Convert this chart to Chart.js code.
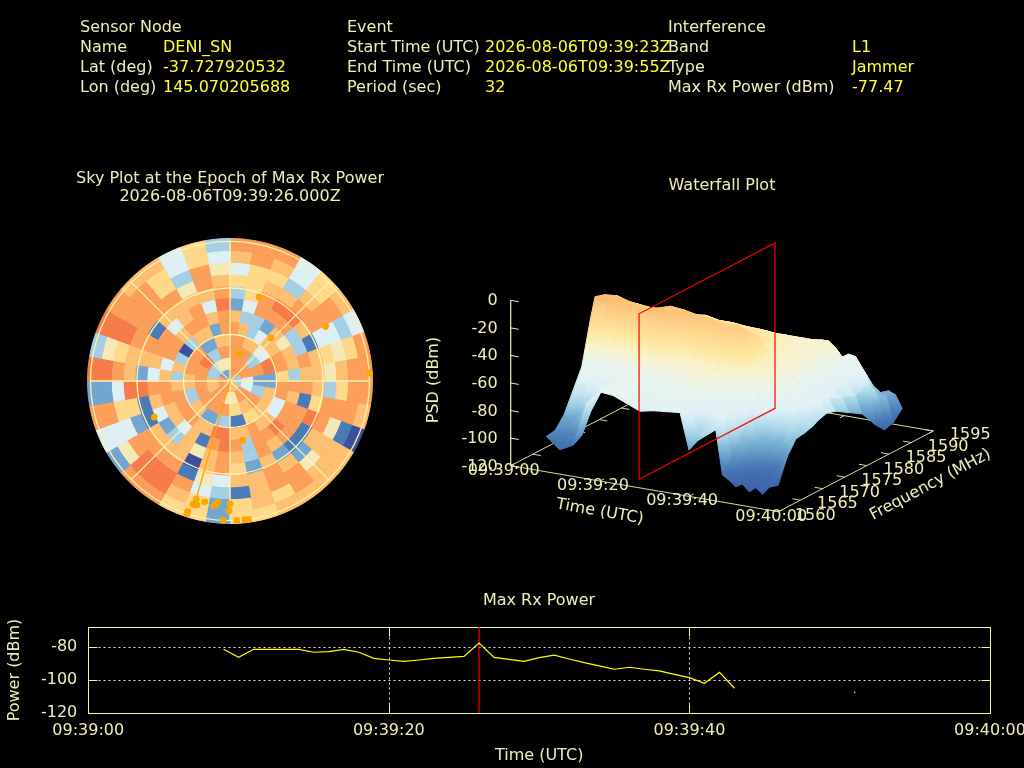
<!DOCTYPE html>
<html>
<head>
<meta charset="utf-8">
<title>Interference report</title>
<script src="https://cdn.jsdelivr.net/npm/chart.js@4/dist/chart.umd.js"></script>
<style>
  html, body { margin: 0; width: 1024px; height: 768px; background: #000; overflow: hidden; }
  canvas { position: absolute; }
  .t { position: absolute; white-space: pre; font: 16px "DejaVu Sans", sans-serif; line-height: 1; }
</style>
</head>
<body>
<canvas id="skyCells" width="286" height="286" style="left:87px;top:238px"></canvas>
<canvas id="skyMarks" width="330" height="330" style="left:65px;top:216px"></canvas>
<canvas id="waterfall" width="1024" height="768" style="left:0;top:0"></canvas>
<canvas id="power" width="1060" height="768" style="left:0;top:0"></canvas>
<script>
const CREAM = "#efeeb8";
const YELLOW = "#ffff33";

// ---- header text
const headerLabels = [
  ["Sensor Node", 80, 27.3], ["Name", 80, 47.3], ["Lat (deg)", 80, 67.3], ["Lon (deg)", 80, 87.3],
  ["Event", 347, 27.3], ["Start Time (UTC)", 347, 47.3], ["End Time (UTC)", 347, 67.3], ["Period (sec)", 347, 87.3],
  ["Interference", 668, 27.3], ["Band", 668, 47.3], ["Type", 668, 67.3], ["Max Rx Power (dBm)", 668, 87.3]
];
const headerValues = [
  ["DENI_SN", 163, 47.3], ["-37.727920532", 163, 67.3], ["145.070205688", 163, 87.3],
  ["2026-08-06T09:39:23Z", 485, 47.3], ["2026-08-06T09:39:55Z", 485, 67.3], ["32", 485, 87.3],
  ["L1", 852, 47.3], ["Jammer", 852, 67.3], ["-77.47", 852, 87.3]
];

// ---- sky plot: colour level per cell, one row per 10 deg sector from north, inner ring first
const skySectors = [
  [7,8,5,6,8,7,2,3,6,4,7,8],
  [7,8,8,8,7,3,4,6,6,6,8,8],
  [8,8,9,8,3,3,8,8,7,6,7,8],
  [8,8,8,7,4,2,8,9,7,3,4,4],
  [7,7,8,7,7,7,8,9,8,7,6,6],
  [6,8,3,4,7,5,3,7,8,8,8,7],
  [7,8,5,4,8,7,3,1,4,4,3,4],
  [6,8,8,9,8,7,8,7,6,5,6,8],
  [6,7,7,8,6,3,7,7,5,7,8,8],
  [3,3,2,2,8,8,8,7,3,6,8,8],
  [5,4,0,3,8,7,1,6,8,8,8,7],
  [7,3,3,7,4,8,8,9,8,5,1,0],
  [8,8,8,8,4,8,8,1,7,7,7,7],
  [8,9,8,7,7,9,8,1,2,5,7,7],
  [8,8,7,7,7,8,7,2,7,8,8,7],
  [7,8,7,6,8,8,8,7,8,8,6,7],
  [6,5,6,4,7,3,3,2,7,7,7,6],
  [5,5,6,1,7,8,7,6,7,1,6,6],
  [6,5,7,3,9,9,8,8,4,3,2,2],
  [8,1,8,3,9,8,7,7,5,4,6,6],
  [8,8,8,2,7,1,5,0,1,8,7,6],
  [8,8,8,2,7,7,7,7,8,9,9,8],
  [7,8,7,7,8,4,3,7,8,9,9,8],
  [8,7,8,7,8,7,2,7,8,8,5,2],
  [7,1,8,7,8,7,4,1,2,4,4,4],
  [7,1,8,3,8,8,7,1,6,6,8,8],
  [7,7,8,3,7,8,8,9,9,4,2,2],
  [8,1,8,7,3,7,4,2,7,8,9,9],
  [7,8,8,8,7,4,7,7,7,6,5,3],
  [3,1,8,8,3,8,8,8,8,9,9,9],
  [3,3,9,8,0,8,8,1,8,8,8,8],
  [3,7,9,8,3,7,4,7,8,8,8,7],
  [3,5,7,4,7,8,7,7,8,6,6,7],
  [2,5,3,2,7,8,8,7,5,3,4,4],
  [3,5,8,7,2,7,4,7,8,8,6,6],
  [8,7,8,7,8,8,9,8,7,5,4,3]
];
// how many sectors one cell spans in each ring, inner rings have wider cells
const skyRingSpan = [6, 4, 2, 2, 1, 1, 1, 1, 1, 1, 1, 1];
const skyColors = ["#3c4f9e", "#4a7ab8", "#72a6d0", "#a5cfe5", "#dff0f5", "#f5e9b8", "#fed98a", "#fdbf72", "#fb9f5b", "#f67c4b"];

const satAz = [19.2, 60.3, 43.7, 17.8, 86.8, 244.5, 168, 196, 196.7, 195, 191.8, 187.3, 186.7, 185.8, 180, 180.4, 198, 198, 182.8, 177.2, 173.9, 172.4];
const satEl = [32.7, 19, 51.7, 71.5, 0, 35.9, 50.8, 10.8, 7, 7.3, 10.3, 8.8, 9.5, 11.1, 10.7, 6.3, 1.6, 0, 0, 0, 0, 0];
const skyRingEl = [60, 30, 0];
const skySpokeAz = [0, 45, 90, 135];

// ---- waterfall: PSD (dBm) per time row and frequency column
const wfSeconds = [5, 8, 11, 14, 17, 20, 23, 26, 29, 32, 35, 37, 39, 41, 43, 44.5, 46, 47.5, 49, 50.5, 52, 53.5, 55];
const wfFreqs = [1563, 1565, 1567, 1569, 1571, 1573, 1574, 1576, 1578, 1581, 1584, 1587, 1589, 1591, 1593];
const wfPsd = [
  [-101,-100,-92,-78,-64,-32,-18,-20,-28,-40,-46,-52,-60,-75,-90],
  [-109,-103,-92,-74,-62,-30,-18,-19,-26,-38,-44,-50,-58,-72,-88],
  [-104,-100,-86,-70,-60,-30,-21,-22,-27,-36,-42,-49,-56,-70,-86],
  [-72,-70,-66,-64,-58,-32,-23,-24,-28,-35,-41,-49,-55,-68,-84],
  [-62,-62,-61,-60,-56,-33,-22,-23,-30,-36,-41,-49,-54,-66,-82],
  [-63,-60,-62,-58,-55,-30,-18,-20,-28,-35,-40,-49,-53,-65,-80],
  [-67,-64,-60,-60,-54,-34,-23,-21,-29,-36,-42,-50,-54,-65,-80],
  [-71,-68,-63,-60,-55,-36,-24,-23,-30,-37,-42,-50,-55,-66,-81],
  [-69,-66,-62,-58,-52,-35,-25,-24,-31,-38,-43,-50,-55,-67,-83],
  [-68,-64,-60,-57,-50,-33,-24,-26,-32,-38,-44,-51,-56,-68,-84],
  [-67,-65,-58,-55,-48,-32,-26,-25,-34,-40,-45,-51,-57,-70,-86],
  [-93,-85,-72,-62,-52,-38,-27,-28,-36,-42,-46,-51,-58,-70,-86],
  [-85,-78,-68,-60,-50,-36,-28,-30,-40,-45,-47,-51,-58,-71,-87],
  [-80,-76,-70,-64,-58,-50,-46,-48,-50,-50,-50,-51,-60,-72,-88],
  [-75,-72,-68,-62,-56,-50,-47,-48,-50,-50,-50,-50,-60,-74,-89],
  [-107,-98,-86,-74,-64,-55,-52,-52,-52,-52,-52,-50,-62,-75,-90],
  [-110,-104,-95,-84,-68,-58,-55,-54,-54,-54,-54,-54,-66,-80,-92],
  [-114,-108,-100,-92,-70,-60,-57,-56,-56,-56,-56,-60,-68,-82,-95],
  [-111,-112,-102,-90,-74,-64,-60,-60,-60,-62,-60,-57,-70,-85,-92],
  [-116,-110,-104,-94,-76,-68,-64,-62,-64,-66,-62,-58,-72,-86,-95],
  [-112,-114,-106,-90,-78,-72,-68,-66,-68,-72,-72,-66,-82,-90,-92],
  [-116,-110,-104,-90,-82,-76,-72,-70,-72,-76,-80,-76,-88,-92,-94],
  [-110,-112,-95,-85,-84,-82,-80,-78,-80,-86,-92,-105,-112,-110,-103]
];
const psdStops = [-120, -105, -92, -82, -72, -60, -50, -40, -28, -15, 0];
const psdColors = ["#3b56a6", "#4575b4", "#74add1", "#abd9e9", "#dff1f7", "#e8f4ee", "#f8f3cf", "#fee8a0", "#fed38a", "#fdb56a", "#f46d43"];
const wfTimeTicks = [0, 20, 40, 60];
const wfFreqTicks = [1560, 1565, 1570, 1575, 1580, 1585, 1590, 1595];
const wfPsdTicks = [0, -20, -40, -60, -80, -100, -120];
const epochSecond = 26;
const planeFreqs = [1562.8, 1593.5];

// ---- max rx power
const powerSeconds = [9,10,11,12,13,14,15,16,17,18,19,20,21,22,23,24,25,26,27,28,29,30,31,32,33,34,35,36,37,38,39,40,41,42,43];
const powerValues = [-81.2,-86.1,-81.2,-81.2,-81.2,-81.2,-83,-82.6,-81.2,-83,-86.7,-87.7,-88.5,-87.7,-86.7,-86.1,-85.5,-77.47,-86.1,-87.3,-88.5,-86.3,-84.8,-87.1,-89.3,-91.3,-93.3,-92.1,-93.3,-94.3,-96.4,-98.4,-101.8,-95.2,-104.8];
const lonePoint = [{ x: 51, y: -107.3 }];
const powerTimeTicks = [0, 20, 40, 60];
const powerTicks = [-120, -100, -80];

function clockLabel(sec) {
  const m = 39 + Math.floor(sec / 60);
  const s = sec % 60;
  return "09:" + m + ":" + String(s).padStart(2, "0");
}

function addText(str, x, y, color, anchor, rot) {
  const el = document.createElement("div");
  el.className = "t";
  el.textContent = str;
  el.style.left = x + "px";
  el.style.top = y + "px";
  el.style.color = color || CREAM;
  const tx = anchor === "l" ? "0" : anchor === "r" ? "-100%" : "-50%";
  el.style.transform = "translate(" + tx + ",-50%)" + (rot ? " rotate(" + rot + "deg)" : "");
  document.body.appendChild(el);
}

headerLabels.forEach(([s, x, y]) => addText(s, x, y, CREAM, "l"));
headerValues.forEach(([s, x, y]) => addText(s, x, y, YELLOW, "l"));
addText("Sky Plot at the Epoch of Max Rx Power", 230, 178.3);
addText("2026-08-06T09:39:26.000Z", 230, 196.3);
addText("Waterfall Plot", 722, 185.3);
addText("Max Rx Power", 539, 600.3);

Chart.defaults.animation = false;
Chart.defaults.events = [];
Chart.defaults.plugins.legend.display = false;
Chart.defaults.plugins.tooltip.enabled = false;
Chart.defaults.responsive = false;
Chart.defaults.font.family = '"DejaVu Sans", sans-serif';
Chart.defaults.font.size = 16;
Chart.defaults.color = CREAM;

// ---- sky cells, outermost ring is the first dataset
const skyDatasets = [];
for (let ring = skyRingSpan.length - 1; ring >= 0; ring--) {
  const span = skyRingSpan[ring];
  const spans = [];
  const colors = [];
  for (let s = 0; s < skySectors.length; s += span) {
    spans.push(span);
    colors.push(skyColors[skySectors[s + Math.floor(span / 2)][ring]]);
  }
  skyDatasets.push({ data: spans, backgroundColor: colors, borderColor: colors, borderWidth: 1 });
}
new Chart(document.getElementById("skyCells"), {
  type: "doughnut",
  data: { labels: skySectors.map((_, i) => i * 10), datasets: skyDatasets },
  options: { cutout: 0, layout: { padding: 0 } }
});

// ---- sky grid and satellites
function polar(az, el) {
  const r = (90 - el) / 90;
  const a = az * Math.PI / 180;
  return { x: r * Math.sin(a), y: r * Math.cos(a) };
}
const skyGrid = {
  id: "skyGrid",
  beforeDatasetsDraw(chart) {
    const { ctx, scales } = chart;
    const cx = scales.x.getPixelForValue(0);
    const cy = scales.y.getPixelForValue(0);
    const unit = scales.x.getPixelForValue(1) - cx;
    ctx.save();
    ctx.strokeStyle = "#fff2ac";
    ctx.lineWidth = 1.3;
    skyRingEl.forEach((el) => {
      ctx.beginPath();
      ctx.arc(cx, cy, unit * (90 - el) / 90, 0, Math.PI * 2);
      ctx.stroke();
    });
    skySpokeAz.forEach((az) => {
      const a = az * Math.PI / 180;
      ctx.beginPath();
      ctx.moveTo(cx - unit * Math.sin(a), cy + unit * Math.cos(a));
      ctx.lineTo(cx + unit * Math.sin(a), cy - unit * Math.cos(a));
      ctx.stroke();
    });
    ctx.restore();
  }
};
const skyLimit = 165 / 143;
new Chart(document.getElementById("skyMarks"), {
  type: "scatter",
  data: {
    datasets: [
      {
        data: satAz.map((az, i) => polar(az, satEl[i])),
        backgroundColor: "#ffa500",
        pointRadius: 3.4,
        pointBorderWidth: 0,
        clip: false
      },
      {
        data: [polar(0, 90), polar(satAz[7], satEl[7])],
        showLine: true,
        borderColor: "#ffa500",
        borderWidth: 1.3,
        pointRadius: 0
      }
    ]
  },
  options: {
    layout: { padding: 0 },
    scales: {
      x: { display: false, min: -skyLimit, max: skyLimit },
      y: { display: false, min: -skyLimit, max: skyLimit }
    }
  },
  plugins: [skyGrid]
});

// ---- waterfall projection, the chart's scales run in canvas units
function project(sec, freq, psd) {
  const tau = sec / 60;
  const phi = (freq - 1560) / 35;
  return {
    x: 510.7 + 267.6 * tau + 155 * phi,
    y: 465.7 + 46 * tau - 80.7 * phi - (psd + 120) * 1.378
  };
}

function psdColor(v) {
  const val = Math.max(-120, Math.min(0, v));
  let i = 0;
  while (i < psdStops.length - 2 && val > psdStops[i + 1]) i++;
  const f = (val - psdStops[i]) / (psdStops[i + 1] - psdStops[i]);
  const a = Chart.helpers.color(psdColors[i]).rgb;
  const b = Chart.helpers.color(psdColors[i + 1]).rgb;
  return "rgb(" + Math.round(a.r + (b.r - a.r) * f) + "," + Math.round(a.g + (b.g - a.g) * f) + "," + Math.round(a.b + (b.b - a.b) * f) + ")";
}

const wfCtx = document.getElementById("waterfall").getContext("2d");

function cellDataset(r, c) {
  const corners = [[r, c], [r, c + 1], [r + 1, c + 1], [r + 1, c]].map(([i, j]) => ({
    ...project(wfSeconds[i], wfFreqs[j], wfPsd[i][j]),
    psd: wfPsd[i][j]
  }));
  let top = corners[0];
  let bottom = corners[0];
  corners.forEach((p) => {
    if (p.y < top.y) top = p;
    if (p.y > bottom.y) bottom = p;
  });
  const g = wfCtx.createLinearGradient(0, top.y, 0, bottom.y + 0.01);
  for (let k = 0; k <= 6; k++) {
    g.addColorStop(k / 6, psdColor(top.psd + (bottom.psd - top.psd) * k / 6));
  }
  return {
    data: corners.concat([corners[0]]).map((p) => ({ x: p.x, y: p.y })),
    showLine: true,
    fill: "shape",
    pointRadius: 0,
    borderWidth: 1,
    borderColor: g,
    backgroundColor: g
  };
}

function lineDataset(points, color, width) {
  return { data: points, showLine: true, borderColor: color, borderWidth: width, pointRadius: 0, fill: false };
}

// dataset 0 is painted last, so: red plane, z axis, surface near to far, then the floor
const wfDatasets = [];
const planeLow = planeFreqs.map((f) => project(epochSecond, f, -120));
const planeHigh = planeFreqs.map((f) => project(epochSecond, f, 0));
wfDatasets.push(lineDataset([planeLow[0], planeHigh[0], planeHigh[1], planeLow[1], planeLow[0]], "#ff0000", 1.2));
wfDatasets.push(lineDataset([project(0, 1560, 0), project(0, 1560, -120)], CREAM, 1.2));
wfPsdTicks.forEach((v) => {
  wfDatasets.push(lineDataset([project(0, 1560, v), project(1.8, 1560, v)], CREAM, 1));
});
for (let r = wfSeconds.length - 2; r >= 0; r--) {
  for (let c = 0; c < wfFreqs.length - 1; c++) {
    wfDatasets.push(cellDataset(r, c));
  }
}
const floorColor = "#dcd8a0";
wfDatasets.push(lineDataset([project(0, 1560, -120), project(60, 1560, -120), project(60, 1595, -120), project(0, 1595, -120), project(0, 1560, -120)], floorColor, 1));
wfFreqTicks.forEach((f) => {
  wfDatasets.push(lineDataset([project(60, f, -120), project(58.2, f, -120)], floorColor, 1));
  wfDatasets.push(lineDataset([project(0, f, -120), project(1.8, f, -120)], floorColor, 1));
});
wfTimeTicks.forEach((t) => {
  wfDatasets.push(lineDataset([project(t, 1560, -120), project(t, 1561, -120)], floorColor, 1));
  wfDatasets.push(lineDataset([project(t, 1595, -120), project(t, 1594, -120)], floorColor, 1));
});

new Chart(document.getElementById("waterfall"), {
  type: "scatter",
  data: { datasets: wfDatasets },
  options: {
    layout: { padding: 0 },
    scales: {
      x: { display: false, min: 0, max: 1024 },
      y: { display: false, min: 0, max: 768, reverse: true }
    }
  }
});

wfPsdTicks.forEach((v) => {
  const p = project(0, 1560, v);
  addText(String(v), p.x - 13, p.y, CREAM, "r");
});
wfTimeTicks.forEach((t) => {
  const p = project(t, 1560, -120);
  addText(clockLabel(t), p.x - 7, p.y + 4, CREAM);
});
wfFreqTicks.forEach((f) => {
  const p = project(60, f, -120);
  addText(String(f), p.x + 37, p.y + 3, CREAM);
});
addText("PSD (dBm)", 433, 380, CREAM, "c", -90);
addText("Time (UTC)", 600, 511, CREAM, "c", 10);
addText("Frequency (MHz)", 930, 484, CREAM, "c", -28);

// ---- max rx power chart, frame and dotted grid are pixel aligned here
const frameAndTicks = {
  id: "frameAndTicks",
  beforeDatasetsDraw(chart) {
    const { ctx, chartArea: a, scales } = chart;
    const left = Math.round(a.left) + 0.5;
    const right = Math.round(a.right) + 0.5;
    const top = Math.round(a.top) + 0.5;
    const bottom = Math.round(a.bottom) + 0.5;
    ctx.save();
    ctx.lineWidth = 1;
    ctx.strokeStyle = "#e6e6d8";
    ctx.setLineDash([2, 3]);
    ctx.beginPath();
    powerTicks.forEach((v) => {
      const y = Math.round(scales.y.getPixelForValue(v)) + 0.5;
      ctx.moveTo(left, y); ctx.lineTo(right, y);
    });
    powerTimeTicks.forEach((v) => {
      const x = Math.round(scales.x.getPixelForValue(v)) + 0.5;
      ctx.moveTo(x, top); ctx.lineTo(x, bottom);
    });
    ctx.stroke();
    ctx.setLineDash([]);
    ctx.strokeStyle = "#f7f4a6";
    ctx.strokeRect(left, top, right - left, bottom - top);
    ctx.beginPath();
    powerTicks.forEach((v) => {
      const y = Math.round(scales.y.getPixelForValue(v)) + 0.5;
      ctx.moveTo(left, y); ctx.lineTo(left + 9, y);
      ctx.moveTo(right, y); ctx.lineTo(right - 9, y);
    });
    powerTimeTicks.forEach((v) => {
      const x = Math.round(scales.x.getPixelForValue(v)) + 0.5;
      ctx.moveTo(x, bottom); ctx.lineTo(x, bottom - 9);
      ctx.moveTo(x, top); ctx.lineTo(x, top + 9);
    });
    ctx.stroke();
    ctx.restore();
  }
};

new Chart(document.getElementById("power"), {
  type: "scatter",
  data: {
    datasets: [
      {
        data: powerSeconds.map((s, i) => ({ x: s, y: powerValues[i] })),
        showLine: true,
        borderColor: "#ffff00",
        borderWidth: 1.2,
        pointRadius: 0
      },
      { data: lonePoint, backgroundColor: "#ffff00", pointRadius: 0.8, pointBorderWidth: 0 },
      {
        data: [{ x: epochSecond, y: -120 }, { x: epochSecond, y: -67.5 }],
        showLine: true,
        borderColor: "#ff0000",
        borderWidth: 1.2,
        pointRadius: 0
      }
    ]
  },
  options: {
    layout: { padding: { top: 626.7, right: 70, left: 0, bottom: 0 } },
    scales: {
      x: {
        type: "linear",
        min: 0,
        max: 60,
        afterBuildTicks: (axis) => { axis.ticks = powerTimeTicks.map((value) => ({ value })); },
        afterFit: (axis) => { axis.height = 54.7; },
        ticks: { callback: (v) => clockLabel(v), padding: 8, maxRotation: 0, autoSkip: false },
        grid: { drawOnChartArea: false, drawTicks: false },
        border: { display: false },
        title: { display: true, text: "Time (UTC)", padding: { top: 0, bottom: 3 } }
      },
      y: {
        min: -120,
        max: -67.5,
        afterBuildTicks: (axis) => { axis.ticks = powerTicks.map((value) => ({ value })); },
        afterFit: (axis) => { axis.width = 88.3; },
        ticks: { padding: 11, autoSkip: false },
        grid: { drawOnChartArea: false, drawTicks: false },
        border: { display: false },
        title: { display: true, text: "Power (dBm)", padding: { top: 5, bottom: 0 } }
      }
    }
  },
  plugins: [frameAndTicks]
});
</script>
</body>
</html>
